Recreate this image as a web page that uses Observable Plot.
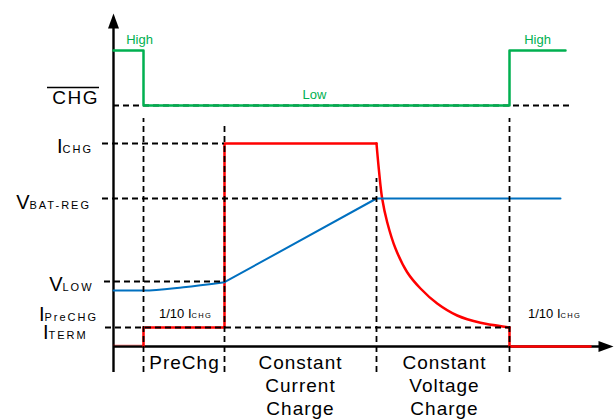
<!DOCTYPE html>
<html>
<head>
<meta charset="utf-8">
<script src="https://cdn.jsdelivr.net/npm/d3@7"></script>
<script src="https://cdn.jsdelivr.net/npm/@observablehq/plot@0.6"></script>
<style>
  html, body { margin: 0; padding: 0; background: #fff; }
  g[aria-description="sub"] text { letter-spacing: 2px; }
  g[aria-description="subsmall"] text { letter-spacing: 1.3px; }
  g[aria-description="chg"] text { letter-spacing: 1.5px; }
  g[aria-description="phase"] text { letter-spacing: 1px; }
</style>
</head>
<body>
<div id="chart"></div>
<script>
// ---- data (time axis in arbitrary units, levels in arbitrary units) ----
const phaseTimes = [30, 111, 263, 396];           // PreChg start, CC start, CV start, termination
const chgTimes  = [0, 30, 30, 396, 396, 452];
const chgLevels = [296, 296, 241, 241, 296, 296]; // CHG pin: High / Low
const iStartTimes  = [0, 30];
const iStartLevels = [0, 0];
const iTimes  = [30, 30, 111, 111, 263];
const iLevels = [0, 19, 19, 203, 203];            // charge current steps
const iDecayTimes  = [263, 265.3, 268.7, 273.7, 282, 293.7, 307, 323.7, 343.7, 367, 394.3, 396];
const iDecayLevels = [203, 177.7, 147.7, 124.3, 98, 74.3, 58, 43, 31, 23.7, 19.3, 19];
const iTailTimes  = [396, 396, 477];
const iTailLevels = [19, 0, 0];
const vPreTimes  = [0, 30, 70, 111];
const vPreLevels = [56, 56, 59.3, 64.3];          // battery voltage during precharge
const vTimes  = [111, 263, 447];
const vLevels = [64.3, 148, 148];
const refLevels = [241, 203, 148, 65, 19];        // CHG low, I_CHG, V_BAT-REG, V_LOW, I_TERM
const mainLabels = ["I", "V", "V", "I", "I"];
const subLabels  = ["CHG", "BAT-REG", "LOW", "PreCHG", "TERM"];
const phaseLabels = ["PreChg", "Constant\nCurrent\nCharge", "Constant\nVoltage\nCharge"];
const stateLabels = ["High", "Low", "High"];

// ---- layout helpers (not data) ----
const pts = (xs, ys) => xs.map((x, i) => ({x, y: ys[i]}));
const hStart = [0, -11, -11, -9, -8];
const hEnd = [457, 111, 263, 111, 396];
const vTop = [228, 223, 168, 228];
const refH = refLevels.map((y, i) => ({y, x1: hStart[i], x2: hEnd[i]}));
const refV = phaseTimes.map((x, i) => ({x, y1: -26, y2: vTop[i]}));
const leftLab = [
  {m: mainLabels[0], s: subLabels[0], x: -51, y: 194},
  {m: mainLabels[1], s: subLabels[1], x: -84, y: 138},
  {m: mainLabels[2], s: subLabels[2], x: -51, y: 56},
  {m: mainLabels[3], s: subLabels[3], x: -69, y: 26},
  {m: mainLabels[4], s: subLabels[4], x: -65, y: 8}
];
const fracLab = [{x: 78, y: 29}, {x: 447, y: 29}];
const phaseLab = [
  {t: phaseLabels[0], x: 71, y: -22},
  {t: phaseLabels[1], x: 187, y: -68},
  {t: phaseLabels[2], x: 331, y: -68}
];
const stateLab = [
  {t: stateLabels[0], x: 26, y: 303},
  {t: stateLabels[1], x: 201, y: 248},
  {t: stateLabels[2], x: 424, y: 303}
];
const arrowHead = {
  draw(ctx) { ctx.moveTo(0, 0); ctx.lineTo(5.5, 15); ctx.lineTo(-5.5, 15); ctx.closePath(); }
};

const GREEN = "#00b050", RED = "#ff0000", BLUE = "#0070c0";
const dash = {stroke: "black", strokeWidth: 1.8, strokeDasharray: "6,4"};

const chart = Plot.plot({
  width: 616,
  height: 419,
  margin: 0,
  x: {domain: [-113, 503], axis: null},
  y: {domain: [-73, 346], axis: null},
  style: {fontFamily: "'Liberation Sans', Arial, sans-serif", background: "white", color: "black"},
  marks: [
    // axes
    Plot.ruleX([0], {y1: -26, y2: 320, stroke: "black", strokeWidth: 2.4}),
    Plot.ruleY([0], {x1: 0, x2: 487, stroke: "black", strokeWidth: 2.4}),
    Plot.dot([{x: 0, y: 333}], {x: "x", y: "y", symbol: arrowHead, fill: "black", stroke: "none"}),
    Plot.dot([{x: 500, y: 0}], {x: "x", y: "y", symbol: arrowHead, fill: "black", stroke: "none", rotate: 90}),
    // CHG reference dashed (under green)
    Plot.ruleY([refH[0]], {y: "y", x1: "x1", x2: "x2", ...dash}),
    // CHG signal
    Plot.line(pts(chgTimes, chgLevels), {x: "x", y: "y", stroke: GREEN, strokeWidth: 2.5}),
    // current
    Plot.line(pts(iStartTimes, iStartLevels), {x: "x", y: "y", stroke: RED, strokeWidth: 1, strokeOpacity: 0.35, dy: -1.5}),
    Plot.line(pts(iTimes, iLevels), {x: "x", y: "y", stroke: RED, strokeWidth: 2.5}),
    Plot.line(pts(iDecayTimes, iDecayLevels), {x: "x", y: "y", stroke: RED, strokeWidth: 2.5, curve: "catmull-rom"}),
    Plot.line(pts(iTailTimes, iTailLevels), {x: "x", y: "y", stroke: RED, strokeWidth: 2.5}),
    // voltage
    Plot.line(pts(vPreTimes, vPreLevels), {x: "x", y: "y", stroke: BLUE, strokeWidth: 2, curve: "monotone-x"}),
    Plot.line(pts(vTimes, vLevels), {x: "x", y: "y", stroke: BLUE, strokeWidth: 2}),
    // dashed references
    Plot.ruleY(refH.slice(1), {y: "y", x1: "x1", x2: "x2", ...dash}),
    Plot.ruleX(refV, {x: "x", y1: "y1", y2: "y2", ...dash}),
    // CHG label with overline
    Plot.text([{x: -14.5, y: 243}], {x: "x", y: "y", text: () => "CHG", textAnchor: "end", lineAnchor: "bottom", fontSize: 19, ariaDescription: "chg"}),
    Plot.ruleY([{y: 259}], {y: "y", x1: -66, x2: -14, stroke: "black", strokeWidth: 1.5}),
    // level labels
    Plot.text(leftLab, {x: "x", y: "y", text: "m", textAnchor: "end", lineAnchor: "bottom", fontSize: 20}),
    Plot.text(leftLab, {x: "x", y: "y", text: "s", textAnchor: "start", lineAnchor: "bottom", fontSize: 11, ariaDescription: "sub"}),
    // 1/10 I_CHG labels
    Plot.text(fracLab, {x: "x", y: "y", text: () => "1/10 I", textAnchor: "end", lineAnchor: "bottom", fontSize: 13}),
    Plot.text(fracLab, {x: "x", y: "y", text: () => "CHG", textAnchor: "start", lineAnchor: "bottom", fontSize: 7.5, ariaDescription: "subsmall"}),
    // High / Low
    Plot.text(stateLab, {x: "x", y: "y", text: "t", textAnchor: "middle", lineAnchor: "bottom", fontSize: 13, fill: GREEN}),
    // phases
    Plot.text(phaseLab, {x: "x", y: "y", text: "t", textAnchor: "middle", lineAnchor: "bottom", fontSize: 19, lineHeight: 1.2, ariaDescription: "phase"})
  ]
});
document.getElementById("chart").appendChild(chart);
</script>
</body>
</html>
